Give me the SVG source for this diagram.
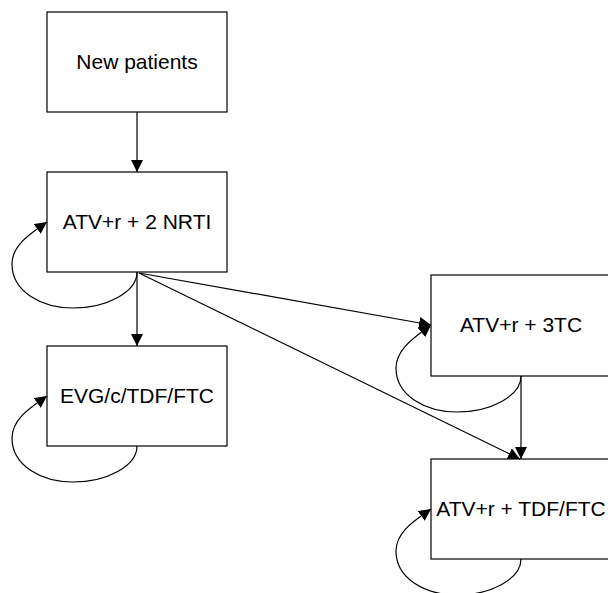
<svg xmlns="http://www.w3.org/2000/svg" width="608" height="593" viewBox="0 0 608 593">
<style>
.box{fill:#fff;stroke:#000;stroke-width:1.2}
.lbl{font-family:"Liberation Sans",Arial,sans-serif;font-size:21px;fill:#000;text-anchor:middle}
.edge{fill:none;stroke:#000;stroke-width:1.2;marker-end:url(#ah)}
</style>
<defs>
<marker id="ah" markerUnits="userSpaceOnUse" markerWidth="12" markerHeight="12" refX="12" refY="6" orient="auto" viewBox="0 0 12 12">
<path d="M0,0 L12,6 L0,12 z" fill="#000"/>
</marker>
</defs>
<rect width="608" height="593" fill="#fff"/>
<g id="n-new"><rect class="box" x="47" y="12" width="180" height="100"/><text class="lbl" x="137" y="69">New patients</text></g>
<g id="n-atv2nrti"><rect class="box" x="47" y="172" width="180" height="100"/><text class="lbl" x="137" y="229">ATV+r + 2 NRTI</text></g>
<g id="n-evg"><rect class="box" x="47" y="346" width="180" height="100"/><text class="lbl" x="137" y="403">EVG/c/TDF/FTC</text></g>
<g id="n-atv3tc"><rect class="box" x="431" y="275" width="180" height="101"/><text class="lbl" x="521" y="332">ATV+r + 3TC</text></g>
<g id="n-atvtdf"><rect class="box" x="431" y="459" width="180" height="100"/><text class="lbl" x="521" y="516">ATV+r + TDF/FTC</text></g>
<g id="connectors">
<path class="edge" d="M137,112 L137,172"/>
<path class="edge" d="M137,272 L137,346"/>
<path class="edge" d="M139,273 L431,325"/>
<path class="edge" d="M139,273 L520,459"/>
<path class="edge" d="M521,376 L521,459"/>
<path class="edge" d="M137,272 C137,292 107,308 73,308 C42,308 12,292 12,264 C12,244 33,232 47,222"/>
<path class="edge" d="M137,446 C137,466 107,482 73,482 C42,482 12,466 12,438 C12,418 33,406 47,396"/>
<path class="edge" d="M521,376 C521,396 491,412 457,412 C426,412 396,396 396,368 C396,348 417,336 431,325"/>
<path class="edge" d="M521,559 C521,579 491,595 457,595 C426,595 396,579 396,551 C396,531 417,519 431,509"/>
</g>
</svg>
